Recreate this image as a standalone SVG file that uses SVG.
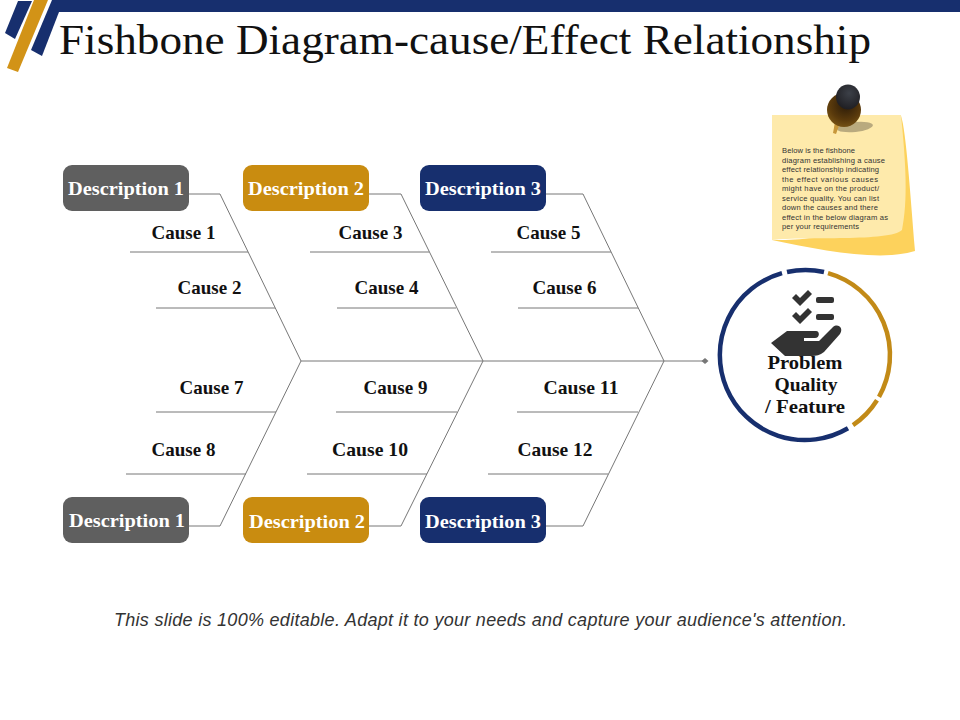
<svg xmlns="http://www.w3.org/2000/svg" width="960" height="720" viewBox="0 0 960 720">
<defs>
<radialGradient id="pinBody" cx="0.55" cy="0.35" r="0.7"><stop offset="0" stop-color="#2a1a08"/><stop offset="0.65" stop-color="#5a3a0c"/><stop offset="1" stop-color="#7a5616"/></radialGradient>
<radialGradient id="pinCap" cx="0.55" cy="0.35" r="0.7"><stop offset="0" stop-color="#3c4048"/><stop offset="1" stop-color="#1d1c20"/></radialGradient>
</defs>
<style>
text{font-family:"Liberation Serif","DejaVu Serif",serif}
.title{font-size:42px;fill:#111}
.box{font-size:19.5px;font-weight:bold;fill:#fff;text-anchor:middle}
.cause{font-size:19px;font-weight:bold;fill:#111;text-anchor:middle}
.bone{fill:none;stroke:#777;stroke-width:1}
.center{font-size:19.5px;font-weight:bold;fill:#111;text-anchor:middle}
.note{font-family:"Liberation Sans",Arial,sans-serif;font-size:7.6px;fill:#333}
.foot{font-family:"Liberation Sans",Arial,sans-serif;font-size:18px;font-style:italic;fill:#333}
.navy{fill:none;stroke:#172f6e;stroke-width:4.5}
.gold{fill:none;stroke:#c28a17;stroke-width:4.5}
</style>
<g id="header">
<rect x="52" y="0" width="908" height="12" fill="#172f6e"/>
<polygon points="52,0 59,12 42,56 31,50" fill="#172f6e"/>
<polygon points="18,1 32,1 15,39 5,33" fill="#172f6e"/>
<polygon points="34,0 48,0 18,72 7,68" fill="#d29317"/>
<text class="title" x="59" y="54" textLength="812" lengthAdjust="spacingAndGlyphs">Fishbone Diagram-cause/Effect Relationship</text>
</g>
<g id="connectors">
<path class="bone" d="M301 361H703"/>
<polygon points="705,358 708.500,361 705,364 701.500,361" fill="#777"/>
<path class="bone" d="M189 194H220L301 361L220 526H189"/>
<path class="bone" d="M369 194H401L483 361L401 526H369"/>
<path class="bone" d="M546 194H583L664 361L583 526H546"/>
<path class="bone" d="M130 252H248M156 308H275M310 252H429M337 308H456M491 252H611M518 308H638"/>
<path class="bone" d="M156 412H276M126 474H246M336 412H457M307 474H427M517 412H638M488 474H608"/>
</g>
<g id="desc-top-1"><rect x="63" y="165" width="126" height="46" rx="9" fill="#5f5f5f"/><text class="box" x="126" y="195" textLength="116" lengthAdjust="spacingAndGlyphs">Description 1</text></g>
<g id="desc-top-2"><rect x="243" y="165" width="126" height="46" rx="9" fill="#c98c10"/><text class="box" x="306" y="195" textLength="116" lengthAdjust="spacingAndGlyphs">Description 2</text></g>
<g id="desc-top-3"><rect x="420" y="165" width="126" height="46" rx="9" fill="#172f6e"/><text class="box" x="483" y="195" textLength="116" lengthAdjust="spacingAndGlyphs">Description 3</text></g>
<g id="desc-bottom-1"><rect x="63" y="497" width="126" height="46" rx="9" fill="#5f5f5f"/><text class="box" x="127" y="527" textLength="116" lengthAdjust="spacingAndGlyphs">Description 1</text></g>
<g id="desc-bottom-2"><rect x="243" y="497" width="126" height="46" rx="9" fill="#c98c10"/><text class="box" x="307" y="528" textLength="116" lengthAdjust="spacingAndGlyphs">Description 2</text></g>
<g id="desc-bottom-3"><rect x="420" y="497" width="126" height="46" rx="9" fill="#172f6e"/><text class="box" x="483" y="528" textLength="116" lengthAdjust="spacingAndGlyphs">Description 3</text></g>
<g id="cause-1"><text class="cause" x="183.500" y="238.500">Cause 1</text></g>
<g id="cause-2"><text class="cause" x="209.500" y="293.500">Cause 2</text></g>
<g id="cause-3"><text class="cause" x="370.500" y="238.500">Cause 3</text></g>
<g id="cause-4"><text class="cause" x="386.500" y="293.500">Cause 4</text></g>
<g id="cause-5"><text class="cause" x="548.500" y="238.500">Cause 5</text></g>
<g id="cause-6"><text class="cause" x="564.500" y="293.500">Cause 6</text></g>
<g id="cause-7"><text class="cause" x="211.500" y="393.500">Cause 7</text></g>
<g id="cause-8"><text class="cause" x="183.500" y="455.500">Cause 8</text></g>
<g id="cause-9"><text class="cause" x="395.500" y="393.500">Cause 9</text></g>
<g id="cause-10"><text class="cause" x="370" y="455.500" textLength="76" lengthAdjust="spacingAndGlyphs">Cause 10</text></g>
<g id="cause-11"><text class="cause" x="581" y="393.500" textLength="75" lengthAdjust="spacingAndGlyphs">Cause 11</text></g>
<g id="cause-12"><text class="cause" x="555" y="455.500" textLength="75" lengthAdjust="spacingAndGlyphs">Cause 12</text></g>
<g id="note">
<path d="M772 240C820 240 880 240 901 116C906 130 910 190 915 251C880 262 820 250 772 240Z" fill="#fdd25c"/>
<path d="M772 115H901C906 165 908 200 902 230C890 242 805 236 772 240Z" fill="#feeaab"/>
<ellipse cx="855" cy="127" rx="18" ry="5" fill="#b9aa7e" transform="rotate(-6 855 127)"/>
<polygon points="835,122 840,123 836,134 833,133" fill="#c7973a"/>
<circle cx="844" cy="110" r="17" fill="url(#pinBody)"/>
<ellipse cx="848" cy="97" rx="12" ry="12.500" fill="url(#pinCap)"/>
<text class="note" x="782" y="153" textLength="73">Below is the fishbone</text>
<text class="note" x="782" y="162.500" textLength="103">diagram establishing  a cause</text>
<text class="note" x="782" y="172" textLength="97">effect relationship indicating</text>
<text class="note" x="782" y="181.500" textLength="96">the effect  various causes</text>
<text class="note" x="782" y="191" textLength="97">might have on  the product/</text>
<text class="note" x="782" y="200.500" textLength="97">service quality. You can list</text>
<text class="note" x="782" y="210" textLength="96">down  the causes and  there</text>
<text class="note" x="782" y="219.500" textLength="106">effect  in the below  diagram as</text>
<text class="note" x="782" y="229" textLength="77">per  your  requirements</text>
</g>
<g id="effect">
<path class="navy" d="M787 272A85 85 0 0 1 824 272"/>
<path class="gold" d="M828 273.200A85 85 0 0 1 879 396.800"/>
<path class="gold" d="M877 400.200A85 85 0 0 1 853 425.100"/>
<path class="navy" d="M848 428.300A85 85 0 1 1 782 273.200"/>
<g fill="#333">
<path d="M792 298l4-4 4 4 8-8 4 4-12 12z"/>
<path d="M792 316l4-4 4 4 8-8 4 4-12 12z"/>
<rect x="816" y="297" width="18" height="6" rx="2"/>
<rect x="816" y="314" width="18" height="6" rx="2"/>
<path d="M771 343L787 331H816C820 331 820 338 815 338H804V341H819L833 327C838 323 844 328 840 334L824 352C820 355 816 356 812 356H785Z"/>
</g>
<text class="center" x="805" y="368.500" textLength="75" lengthAdjust="spacingAndGlyphs">Problem</text>
<text class="center" x="806" y="391" textLength="63" lengthAdjust="spacingAndGlyphs">Quality</text>
<text class="center" x="805" y="413" textLength="80" lengthAdjust="spacingAndGlyphs">/ Feature</text>
</g>
<text id="footer" class="foot" x="114" y="626" textLength="733" lengthAdjust="spacing">This slide is 100% editable. Adapt it to your needs and capture your audience's attention.</text>
</svg>
